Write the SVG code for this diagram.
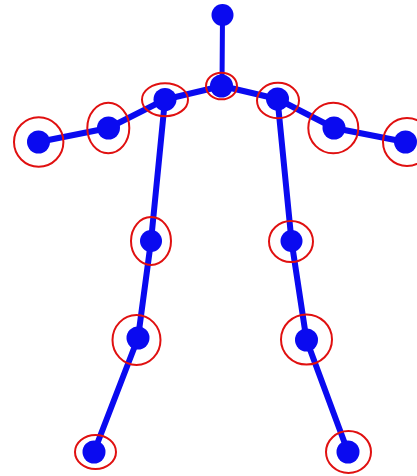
<svg xmlns="http://www.w3.org/2000/svg" width="417" height="476" viewBox="0 0 417 476">
<style>
.bone{stroke:#0a0af0;stroke-width:6;stroke-linecap:round;fill:none}
.joint{fill:#0a0af0}
.ring{fill:none;stroke:#e01010;stroke-width:2}
</style>
<rect width="417" height="476" fill="#ffffff"/>
<g id="connectors">
<line class="bone" style="stroke-width:5" x1="222.5" y1="15" x2="222" y2="86"/>
<line class="bone" x1="222" y1="86" x2="165" y2="99.5"/>
<line class="bone" x1="222" y1="86" x2="277.5" y2="99"/>
<line class="bone" x1="165" y1="99.5" x2="108.5" y2="128"/>
<line class="bone" x1="108.5" y1="128" x2="38.5" y2="142"/>
<line class="bone" x1="277.5" y1="99" x2="334" y2="128"/>
<line class="bone" x1="334" y1="128" x2="405.5" y2="142"/>
<line class="bone" x1="165" y1="99.5" x2="151" y2="241"/>
<line class="bone" x1="151" y1="241" x2="138" y2="338"/>
<line class="bone" x1="138" y1="338" x2="94" y2="452"/>
<line class="bone" x1="277.5" y1="99" x2="291.5" y2="241"/>
<line class="bone" x1="291.5" y1="241" x2="306.5" y2="340"/>
<line class="bone" x1="306.5" y1="340" x2="348" y2="452"/>
</g>
<g id="head"><circle class="joint" cx="222.5" cy="15" r="11"/></g>
<g id="neck"><circle class="joint" cx="221.5" cy="86" r="11.5"/><ellipse class="ring" cx="221.5" cy="86" rx="15.5" ry="13.3"/></g>
<g id="left-shoulder"><circle class="joint" cx="165" cy="99.5" r="11.5"/><ellipse class="ring" cx="165" cy="99.7" rx="23" ry="16.5"/></g>
<g id="left-elbow"><circle class="joint" cx="108.5" cy="128" r="11.5"/><ellipse class="ring" cx="108.3" cy="128" rx="21" ry="25.3"/></g>
<g id="left-hand"><circle class="joint" cx="38.5" cy="142" r="11.5"/><ellipse class="ring" cx="38.7" cy="142" rx="24.7" ry="24.7"/></g>
<g id="right-shoulder"><circle class="joint" cx="277.5" cy="99" r="11.5"/><ellipse class="ring" cx="278" cy="100.5" rx="21" ry="17.8"/></g>
<g id="right-elbow"><circle class="joint" cx="334" cy="128" r="11.5"/><ellipse class="ring" cx="333.3" cy="128" rx="25" ry="25.3"/></g>
<g id="right-hand"><circle class="joint" cx="405.5" cy="142" r="11.5"/><ellipse class="ring" cx="407" cy="142" rx="24" ry="24"/></g>
<g id="left-knee"><circle class="joint" cx="151" cy="241" r="11"/><ellipse class="ring" cx="151" cy="241" rx="20" ry="24"/></g>
<g id="left-ankle"><circle class="joint" cx="138" cy="338" r="11.5"/><ellipse class="ring" cx="136.5" cy="340" rx="24" ry="25"/></g>
<g id="left-foot"><circle class="joint" cx="94" cy="452" r="11.5"/><ellipse class="ring" cx="95.5" cy="452" rx="20.5" ry="17"/></g>
<g id="right-knee"><circle class="joint" cx="291.5" cy="241" r="11"/><ellipse class="ring" cx="291" cy="241.5" rx="22" ry="20.5"/></g>
<g id="right-ankle"><circle class="joint" cx="306.5" cy="340" r="11.5"/><ellipse class="ring" cx="306.5" cy="339.5" rx="25.5" ry="25"/></g>
<g id="right-foot"><circle class="joint" cx="348" cy="452" r="11.5"/><ellipse class="ring" cx="348.5" cy="452" rx="22.5" ry="21"/></g>
</svg>
